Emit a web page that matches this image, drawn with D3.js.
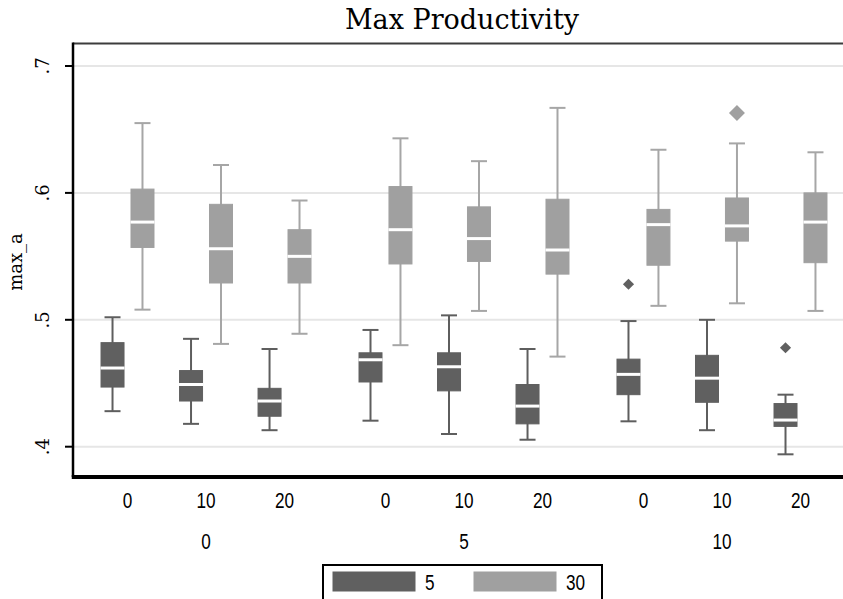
<html>
  <head>
    <style>
      body { margin: 0; background: #fff; }
      svg  { display: block; }
    </style>
  </head>
  <body>
    <svg width="843" height="599"></svg>
    <script src="https://cdn.jsdelivr.net/npm/d3@7"></script>
    <script>
      // categories
      var outerGroups = ["0", "5", "10"],
          innerGroups = ["0", "10", "20"],
          seriesNames = ["5", "30"];

      // y ticks
      var yTicks      = [0.4, 0.5, 0.6, 0.7],
          yTickLabels = [".4", ".5", ".6", ".7"];

      // [lower whisker, q1, median, q3, upper whisker], order: outer x inner
      var stats5 = [
        [0.428, 0.447, 0.462, 0.482, 0.502],
        [0.418, 0.436, 0.449, 0.460, 0.485],
        [0.413, 0.424, 0.436, 0.446, 0.477],
        [0.4205, 0.451, 0.4685, 0.474, 0.492],
        [0.410, 0.444, 0.463, 0.474, 0.5035],
        [0.4055, 0.418, 0.432, 0.449, 0.477],
        [0.420, 0.441, 0.457, 0.469, 0.499],
        [0.413, 0.435, 0.454, 0.472, 0.500],
        [0.394, 0.416, 0.421, 0.434, 0.441]
      ];
      var stats30 = [
        [0.508, 0.557, 0.577, 0.603, 0.655],
        [0.481, 0.529, 0.556, 0.591, 0.622],
        [0.489, 0.529, 0.550, 0.571, 0.594],
        [0.480, 0.544, 0.571, 0.605, 0.643],
        [0.507, 0.546, 0.564, 0.589, 0.625],
        [0.471, 0.536, 0.555, 0.595, 0.667],
        [0.511, 0.543, 0.575, 0.587, 0.634],
        [0.513, 0.562, 0.574, 0.596, 0.639],
        [0.507, 0.545, 0.577, 0.600, 0.632]
      ];
      // outside values: [cell index, value]
      var outliers5  = [[6, 0.528], [8, 0.478]],
          outliers30 = [[7, 0.663]];

      var colors = { "5": "#606060", "30": "#a0a0a0" },
          whiskerColors = { "5": "#5e5e5e", "30": "#a6a6a6" };

      var svg = d3.select("svg"),
          width = +svg.attr("width");

      var plotLeft = 73, plotTop = 43, plotBottom = 477;

      var y = d3.scaleLinear()
          .domain([0.4 - 30.3 / 1269, 0.7 + 23 / 1269])
          .range([plotBottom, plotTop]);

      var xOuter = d3.scaleBand()
          .domain(outerGroups)
          .range([88.25, 839.75])
          .paddingInner(0.087);

      var xInner = d3.scaleBand()
          .domain(innerGroups)
          .range([0, xOuter.bandwidth()]);

      var xSeries = d3.scalePoint()
          .domain(seriesNames)
          .range([0, xInner.bandwidth()])
          .padding(0.81);

      // gridlines
      svg.append("g").selectAll("line")
        .data(yTicks)
        .enter().append("line")
          .attr("x1", plotLeft + 1).attr("x2", width)
          .attr("y1", function(d) { return y(d); })
          .attr("y2", function(d) { return y(d); })
          .attr("stroke", "#e6e6e6")
          .attr("stroke-width", 2);

      // cells
      var cells = [];
      outerGroups.forEach(function(o, oi) {
        innerGroups.forEach(function(inn, ii) {
          var idx = oi * innerGroups.length + ii;
          seriesNames.forEach(function(s) {
            var st = s === "5" ? stats5[idx] : stats30[idx];
            cells.push({ outer: o, inner: inn, series: s, stats: st,
              x: xOuter(o) + xInner(inn) + xSeries(s) });
          });
        });
      });

      var boxW = 23, capW = 16;

      var box = svg.append("g").selectAll("g")
        .data(cells)
        .enter().append("g");

      box.append("line")
          .attr("x1", function(d) { return d.x; })
          .attr("x2", function(d) { return d.x; })
          .attr("y1", function(d) { return y(d.stats[0]); })
          .attr("y2", function(d) { return y(d.stats[4]); })
          .attr("stroke", function(d) { return whiskerColors[d.series]; })
          .attr("stroke-width", 2);

      [0, 4].forEach(function(k) {
        box.append("line")
            .attr("x1", function(d) { return d.x - capW / 2; })
            .attr("x2", function(d) { return d.x + capW / 2; })
            .attr("y1", function(d) { return y(d.stats[k]); })
            .attr("y2", function(d) { return y(d.stats[k]); })
            .attr("stroke", function(d) { return whiskerColors[d.series]; })
            .attr("stroke-width", 2);
      });

      box.append("rect")
          .attr("x", function(d) { return d.x - boxW / 2; })
          .attr("width", boxW)
          .attr("y", function(d) { return y(d.stats[3]); })
          .attr("height", function(d) { return y(d.stats[1]) - y(d.stats[3]); })
          .attr("fill", function(d) { return colors[d.series]; })
          .attr("stroke", function(d) { return colors[d.series]; })
          .attr("stroke-width", 1);

      box.append("line")
          .attr("x1", function(d) { return d.x - boxW / 2 - 0.5; })
          .attr("x2", function(d) { return d.x + boxW / 2 + 0.5; })
          .attr("y1", function(d) { return y(d.stats[2]); })
          .attr("y2", function(d) { return y(d.stats[2]); })
          .attr("stroke", "#fff")
          .attr("stroke-width", 3);

      // outside values
      function cellX(idx, s) {
        var o = outerGroups[Math.floor(idx / innerGroups.length)],
            inn = innerGroups[idx % innerGroups.length];
        return xOuter(o) + xInner(inn) + xSeries(s);
      }
      var outs = outliers5.map(function(d) { return { s: "5", idx: d[0], v: d[1], size: 62 }; })
          .concat(outliers30.map(function(d) { return { s: "30", idx: d[0], v: d[1], size: 128 }; }));

      svg.append("g").selectAll("path")
        .data(outs)
        .enter().append("path")
          .attr("d", function(d) { return d3.symbol(d3.symbolSquare, d.size)(); })
          .attr("transform", function(d) {
            return "translate(" + cellX(d.idx, d.s) + "," + y(d.v) + ") rotate(45)";
          })
          .attr("fill", function(d) { return colors[d.s]; });

      // frame
      svg.append("line")
          .attr("x1", plotLeft).attr("x2", width)
          .attr("y1", plotTop + 0.5).attr("y2", plotTop + 0.5)
          .attr("stroke", "#3c3c3c").attr("stroke-width", 2);
      svg.append("line")
          .attr("x1", plotLeft).attr("x2", plotLeft)
          .attr("y1", plotTop - 0.5).attr("y2", plotBottom)
          .attr("stroke", "#000").attr("stroke-width", 2.5);
      svg.append("line")
          .attr("x1", plotLeft - 1.25).attr("x2", width)
          .attr("y1", plotBottom).attr("y2", plotBottom)
          .attr("stroke", "#000").attr("stroke-width", 4);

      // y axis ticks + labels
      var yAxis = svg.append("g");
      yAxis.selectAll("line")
        .data(yTicks)
        .enter().append("line")
          .attr("x1", plotLeft - 8).attr("x2", plotLeft)
          .attr("y1", function(d) { return y(d); })
          .attr("y2", function(d) { return y(d); })
          .attr("stroke", "#000").attr("stroke-width", 2);
      yAxis.selectAll("text")
        .data(yTicks)
        .enter().append("text")
          .attr("transform", function(d) { return "translate(49," + y(d) + ") rotate(-90)"; })
          .attr("text-anchor", "middle")
          .style("font-family", "DejaVu Serif")
          .style("font-size", "18px")
          .text(function(d, i) { return yTickLabels[i]; });

      svg.append("text")
          .attr("transform", "translate(22,262) rotate(-90)")
          .attr("text-anchor", "middle")
          .style("font-family", "DejaVu Serif")
          .style("font-size", "18px")
          .text("max_a");

      // x labels (condensed sans)
      var narrow = "'Liberation Sans', Arial, sans-serif";
      function narrowText(g, x, yPos, str, anchor) {
        return g.append("text")
            .attr("transform", "translate(" + x + "," + yPos + ") scale(0.78,1)")
            .attr("text-anchor", anchor || "middle")
            .style("font-family", narrow)
            .style("font-size", "22px")
            .text(str);
      }
      var xl = svg.append("g");
      outerGroups.forEach(function(o) {
        innerGroups.forEach(function(inn) {
          narrowText(xl, xOuter(o) + xInner(inn) + xInner.bandwidth() / 2, 508, inn);
        });
        narrowText(xl, xOuter(o) + xOuter.bandwidth() / 2, 549, o);
      });

      // title
      svg.append("text")
          .attr("x", 462).attr("y", 29)
          .attr("text-anchor", "middle")
          .style("font-family", "DejaVu Serif")
          .style("font-size", "27px")
          .text("Max Productivity");

      // legend
      var legend = svg.append("g");
      legend.append("rect")
          .attr("x", 323).attr("y", 565)
          .attr("width", 279).attr("height", 40)
          .attr("fill", "#fff").attr("stroke", "#000").attr("stroke-width", 2);
      var legX = { "5": 333, "30": 474 };
      seriesNames.forEach(function(s) {
        legend.append("rect")
            .attr("x", legX[s]).attr("y", 572)
            .attr("width", 82).attr("height", 19)
            .attr("fill", colors[s]).attr("stroke", colors[s]);
        narrowText(legend, legX[s] + 92, 590, s, "start");
      });
    </script>
  </body>
</html>
